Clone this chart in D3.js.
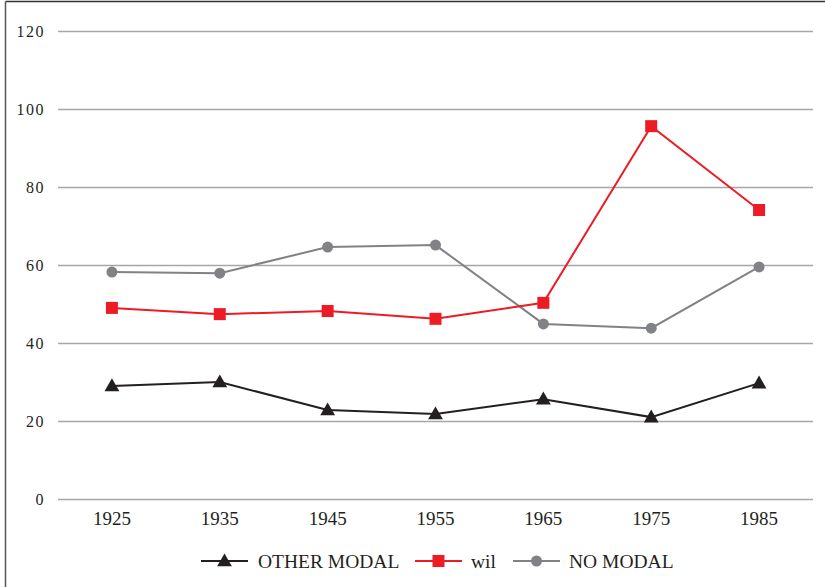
<!DOCTYPE html>
<html><head><meta charset="utf-8">
<script src="https://cdn.jsdelivr.net/npm/d3@7"></script>
<style>body{margin:0;background:#fff}svg{display:block}</style>
</head><body><div id="chart"></div>
<script>
const years = ["1925","1935","1945","1955","1965","1975","1985"];
const otherModal = [29.0, 30.0, 22.8, 21.8, 25.6, 21.0, 29.7];
const wil = [49.0, 47.4, 48.2, 46.2, 50.3, 95.6, 74.1];
const noModal = [58.2, 57.9, 64.6, 65.1, 44.9, 43.8, 59.5];
const yTicks = [0, 20, 40, 60, 80, 100, 120];
const seriesNames = ["OTHER MODAL", "wil", "NO MODAL"];

const W = 825, H = 587;
const svg = d3.select("#chart").append("svg").attr("width", W).attr("height", H);

// frame (top and left)
svg.append("line").attr("x1", 5.5).attr("x2", W).attr("y1", 1.5).attr("y2", 1.5).attr("stroke", "#333").attr("stroke-width", 1.5);
svg.append("line").attr("x1", 5.5).attr("x2", 5.5).attr("y1", 1.5).attr("y2", H).attr("stroke", "#555").attr("stroke-width", 1.5);

const x = d3.scaleBand().domain(years).range([58, 813]);
const y = d3.scaleLinear().domain([0, 120]).range([499, 31]);
const font = "'Liberation Serif', 'DejaVu Serif', serif";

// y axis gridlines and labels
const yAxis = d3.axisLeft(y).tickValues(yTicks).tickSize(-(813 - 58)).tickPadding(13).tickFormat(d3.format("d"));
const gy = svg.append("g").attr("transform", "translate(58,0)").call(yAxis);
gy.select(".domain").remove();
gy.selectAll(".tick line").attr("stroke", "#a6a6a6").attr("stroke-width", 1.6);
gy.selectAll(".tick text").attr("font-family", font).attr("font-size", 16).attr("letter-spacing", 1.5).attr("fill", "#231f20");

// x axis labels
const xAxis = d3.axisBottom(x).tickSize(0).tickPadding(13);
const gx = svg.append("g").attr("transform", "translate(0,499)").call(xAxis);
gx.select(".domain").remove();
gx.selectAll(".tick text").attr("font-family", font).attr("font-size", 19).attr("fill", "#231f20");

const cx = d => x(d) + x.bandwidth() / 2;
const line = d3.line().x((d, i) => cx(years[i])).y(d => y(d));

const series = [
  {name: seriesNames[0], data: otherModal, color: "#231f20", shape: "triangle"},
  {name: seriesNames[1], data: wil, color: "#ed1c24", shape: "square"},
  {name: seriesNames[2], data: noModal, color: "#808285", shape: "circle"}
];

function marker(g, shape, color) {
  if (shape === "triangle") {
    g.append("path").attr("d", d3.symbol(d3.symbolTriangle, 95)()).attr("fill", color).attr("transform", "translate(0,1)");
  } else if (shape === "square") {
    g.append("rect").attr("x", -6).attr("y", -6).attr("width", 12).attr("height", 12).attr("fill", color);
  } else {
    g.append("circle").attr("r", 5.5).attr("fill", color);
  }
}

[series[2], series[1], series[0]].forEach(s => {
  svg.append("path").datum(s.data).attr("d", line).attr("fill", "none").attr("stroke", s.color).attr("stroke-width", 2);
  s.data.forEach((v, i) => {
    const g = svg.append("g").attr("transform", `translate(${cx(years[i])},${y(v)})`);
    marker(g, s.shape, s.color);
  });
});

// legend
const legendItems = [
  {s: series[0], x0: 201, tx: 258},
  {s: series[1], x0: 415, tx: 471},
  {s: series[2], x0: 513, tx: 569}
];
legendItems.forEach(it => {
  const g = svg.append("g").attr("transform", `translate(${it.x0},561)`);
  g.append("line").attr("x1", 0).attr("x2", 47).attr("y1", 0).attr("y2", 0).attr("stroke", it.s.color).attr("stroke-width", 2);
  const m = g.append("g").attr("transform", "translate(23.5,0)");
  marker(m, it.s.shape, it.s.color);
  svg.append("text").attr("x", it.tx).attr("y", 567.5).attr("font-family", font).attr("font-size", 19.5).attr("fill", "#231f20").text(it.s.name);
});
</script></body></html>
